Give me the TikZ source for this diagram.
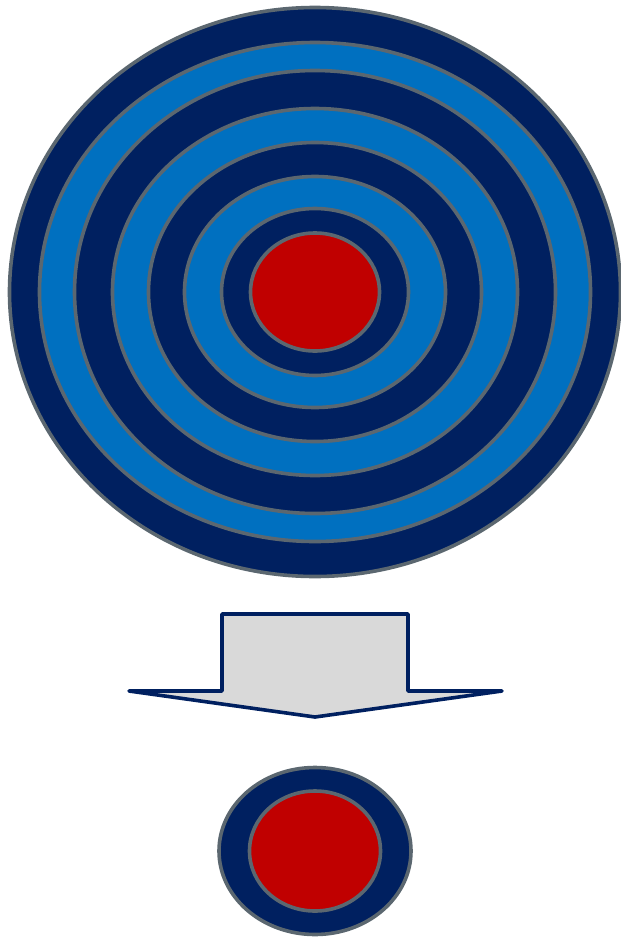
\documentclass[tikz,border=0pt]{standalone}
\definecolor{navy}{HTML}{002060}
\definecolor{midblue}{HTML}{0070C0}
\definecolor{bullred}{HTML}{C00000}
\definecolor{ringgray}{HTML}{5B6770}
\definecolor{arrowfill}{HTML}{D9D9D9}
\tikzset{
  ring/.style={draw=ringgray, line width=3.6pt},
  arrowshape/.style={draw=navy, fill=arrowfill, line width=3.6pt, line join=round}
}
\begin{document}
\begin{tikzpicture}[x=1pt,y=-1pt]
\useasboundingbox (0,0) rectangle (621,940);
% target
\coordinate (c) at (315,292);
\foreach \rx/\ry/\col in {305.5/284.5/navy, 275.5/249.5/midblue, 240.5/221.5/navy, 202.5/183.5/midblue, 166.5/149.5/navy, 130.5/115.5/midblue, 93.5/83.5/navy, 64.5/59/bullred}{
  \path[ring, fill=\col] (c) ellipse [x radius=\rx, y radius=\ry];
}
% arrow
\coordinate (a1) at (222,614);
\coordinate (a2) at (408,614);
\coordinate (a3) at (408,691);
\coordinate (a4) at (502,691);
\coordinate (tip) at (315,717);
\coordinate (a6) at (129,691);
\coordinate (a7) at (222,691);
\draw[arrowshape] (a1) -- (a2) -- (a3) -- (a4) -- (tip) -- (a6) -- (a7) -- cycle;
% small target
\coordinate (s) at (315,851);
\path[ring, fill=navy] (s) ellipse [x radius=96, y radius=83.5];
\path[ring, fill=bullred] (s) ellipse [x radius=65.5, y radius=60];
\end{tikzpicture}
\end{document}
